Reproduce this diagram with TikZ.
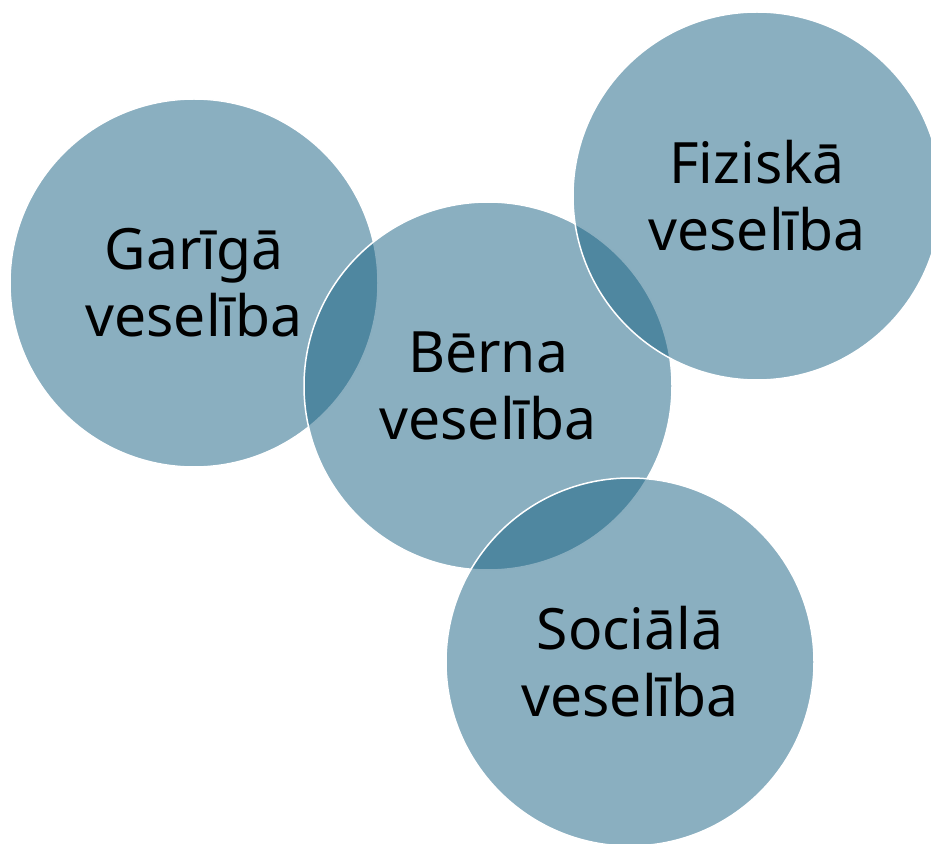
\documentclass[tikz,border=0pt]{standalone}
\usepackage{fontspec}
\setmainfont{Noto Sans}
\definecolor{circblue}{RGB}{21,95,129}

\begin{document}
\begin{tikzpicture}
  [x=0.5pt,y=-0.5pt,every node/.style={circle,minimum size=184pt,inner sep=0pt,
   fill=circblue,fill opacity=.5,text opacity=1,draw=white,line width=.75pt,
   align=center,font=\fontsize{28.5}{33.5}\selectfont}]
  \useasboundingbox (0,0) rectangle (931,844);
  \node (g) at (194,283) {Garīgā\\veselība};
  \node (b) at (488,386) {Bērna\\veselība};
  \node (f) at (757,196) {Fiziskā\\veselība};
  \node (s) at (630,662) {Sociālā\\veselība};

\end{tikzpicture}
\end{document}
